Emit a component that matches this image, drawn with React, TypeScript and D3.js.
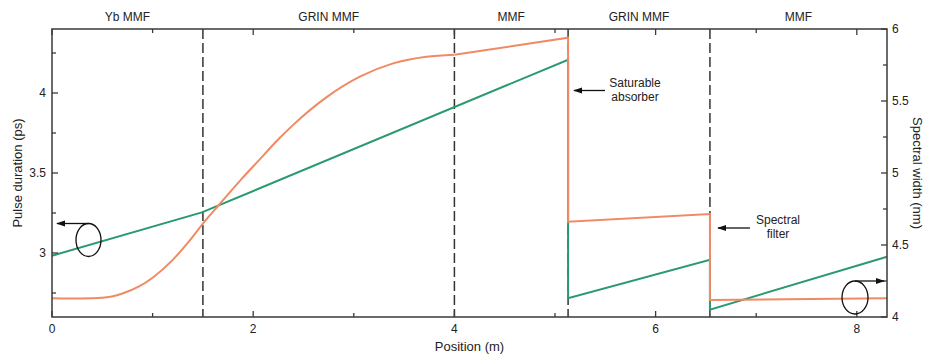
import * as d3 from "d3";
import { useEffect, useRef } from "react";

const W = 928;
const H = 356;

// pulse duration (ps), left axis
const greenPos = [0, 1.49, 5.13, 5.13, 6.54, 6.54, 8.3];
const greenVal = [2.983, 3.254, 4.208, 2.717, 2.958, 2.646, 2.977];

// spectral width (nm), right axis
const orangePos = [0, 0.3, 0.5, 0.7, 0.87, 1.0, 1.2, 1.37, 1.49, 1.65, 1.87, 2.06, 2.26, 2.4, 2.73, 3.06, 3.39, 3.72, 4.0, 5.13, 5.13, 6.54, 6.54, 8.3];
const orangeVal = [4.13, 4.128, 4.133, 4.163, 4.214, 4.273, 4.397, 4.532, 4.64, 4.771, 4.947, 5.091, 5.241, 5.336, 5.527, 5.669, 5.761, 5.807, 5.821, 5.94, 4.662, 4.715, 4.118, 4.13];

const boundaries = [1.5, 4.0, 5.13, 6.54];
const sections = ["Yb MMF", "GRIN MMF", "MMF", "GRIN MMF", "MMF"];
const sectionEdges = [0, 1.5, 4.0, 5.13, 6.54, 8.3];

const xTicks = [0, 2, 4, 6, 8];
const xMinor = [1, 3, 5, 7];
const leftTicks = [3, 3.5, 4];
const leftMinor = [2.75, 3.25, 3.75, 4.25];
const rightTicks = [4, 4.5, 5, 5.5, 6];
const rightMinor = [4.25, 4.75, 5.25, 5.75];

const ORANGE = "#ef8a64";
const GREEN = "#2a9a6e";
const AX = "#3a3a3a";
const FONT = "Liberation Sans, Arial, sans-serif";

const App = () => {
    const ref = useRef<SVGSVGElement>(null);

    useEffect(() => {
        if (!ref.current) return;
        const svg = d3.select(ref.current);
        svg.selectAll("*").remove();

        const m = { left: 52, right: 41, top: 29, bottom: 39 };
        const x = d3.scaleLinear().domain([0, 8.3]).range([m.left, W - m.right]);
        const yL = d3.scaleLinear().domain([2.6, 4.4]).range([H - m.bottom, m.top]);
        const yR = d3.scaleLinear().domain([4, 6]).range([H - m.bottom, m.top]);
        const x0 = m.left, x1 = W - m.right, y0 = m.top, y1 = H - m.bottom;

        const defs = svg.append("defs");
        defs.append("marker")
            .attr("id", "arr")
            .attr("viewBox", "0 0 10 10")
            .attr("refX", 9).attr("refY", 5)
            .attr("markerWidth", 7).attr("markerHeight", 7)
            .attr("orient", "auto-start-reverse")
            .append("path")
            .attr("d", "M0,1.5 L10,5 L0,8.5 Z")
            .attr("fill", "#111");

        // dashed boundaries
        svg.append("g").selectAll("line")
            .data(boundaries)
            .enter().append("line")
            .attr("x1", d => x(d)).attr("x2", d => x(d))
            .attr("y1", y0).attr("y2", y1)
            .attr("stroke", "#333")
            .attr("stroke-width", 1.5)
            .attr("stroke-dasharray", "10,4");

        // section labels
        svg.append("g").selectAll("text")
            .data(sections)
            .enter().append("text")
            .attr("x", (d, i) => (x(sectionEdges[i]) + x(sectionEdges[i + 1])) / 2)
            .attr("y", 21)
            .attr("text-anchor", "middle")
            .style("font", `12px ${FONT}`)
            .attr("fill", "#222")
            .text(d => d);

        // green line
        const gl = d3.line<number>()
            .x((d, i) => x(greenPos[i]))
            .y(d => yL(d));
        svg.append("path")
            .attr("d", gl(greenVal))
            .attr("fill", "none")
            .attr("stroke", GREEN)
            .attr("stroke-width", 2);

        // orange line: smooth part then straight segments
        const split = orangePos.indexOf(4.0);
        const smooth = d3.line<number>()
            .x(i => x(orangePos[i]))
            .y(i => yR(orangeVal[i]))
            .curve(d3.curveMonotoneX);
        const straight = d3.line<number>()
            .x(i => x(orangePos[i]))
            .y(i => yR(orangeVal[i]));
        const idx = d3.range(orangePos.length);
        svg.append("path")
            .attr("d", smooth(idx.slice(0, split + 1)))
            .attr("fill", "none")
            .attr("stroke", ORANGE)
            .attr("stroke-width", 2);
        svg.append("path")
            .attr("d", straight(idx.slice(split)))
            .attr("fill", "none")
            .attr("stroke", ORANGE)
            .attr("stroke-width", 2)
            .attr("stroke-linejoin", "miter");

        // frame
        svg.append("rect")
            .attr("x", x0).attr("y", y0)
            .attr("width", x1 - x0).attr("height", y1 - y0)
            .attr("fill", "none")
            .attr("stroke", AX)
            .attr("stroke-width", 1.5);

        const ticks = svg.append("g").attr("stroke", AX).attr("stroke-width", 1.3);
        const tickX = (vals: number[], len: number) => {
            vals.forEach(v => {
                ticks.append("line").attr("x1", x(v)).attr("x2", x(v)).attr("y1", y1).attr("y2", y1 - len);
                ticks.append("line").attr("x1", x(v)).attr("x2", x(v)).attr("y1", y0).attr("y2", y0 + len);
            });
        };
        tickX(xTicks, 6);
        tickX(xMinor, 4);
        leftTicks.forEach(v => ticks.append("line").attr("x1", x0).attr("x2", x0 + 6).attr("y1", yL(v)).attr("y2", yL(v)));
        leftMinor.forEach(v => ticks.append("line").attr("x1", x0).attr("x2", x0 + 4).attr("y1", yL(v)).attr("y2", yL(v)));
        rightTicks.forEach(v => ticks.append("line").attr("x1", x1).attr("x2", x1 - 6).attr("y1", yR(v)).attr("y2", yR(v)));
        rightMinor.forEach(v => ticks.append("line").attr("x1", x1).attr("x2", x1 - 4).attr("y1", yR(v)).attr("y2", yR(v)));

        const labels = svg.append("g").style("font", `12px ${FONT}`).attr("fill", "#222");
        xTicks.forEach(v => labels.append("text").attr("x", x(v)).attr("y", y1 + 16).attr("text-anchor", "middle").text(v));
        leftTicks.forEach(v => labels.append("text").attr("x", x0 - 6).attr("y", yL(v) + 4).attr("text-anchor", "end").text(v));
        rightTicks.forEach(v => labels.append("text").attr("x", x1 + 5).attr("y", yR(v) + 4).attr("text-anchor", "start").text(v));

        // axis titles
        svg.append("text")
            .attr("x", (x0 + x1) / 2).attr("y", 351)
            .attr("text-anchor", "middle")
            .style("font", `13px ${FONT}`).attr("fill", "#222")
            .text("Position (m)");
        svg.append("text")
            .attr("transform", `translate(22, ${(y0 + y1) / 2}) rotate(-90)`)
            .attr("text-anchor", "middle")
            .style("font", `13px ${FONT}`).attr("fill", "#222")
            .text("Pulse duration (ps)");
        svg.append("text")
            .attr("transform", `translate(913, ${(y0 + y1) / 2}) rotate(90)`)
            .attr("text-anchor", "middle")
            .style("font", `13px ${FONT}`).attr("fill", "#222")
            .text("Spectral width (nm)");

        // annotations
        const ann = svg.append("g").style("font", `12px ${FONT}`).attr("fill", "#222").attr("text-anchor", "middle");
        ann.append("text").attr("x", 635).attr("y", 87).text("Saturable");
        ann.append("text").attr("x", 635).attr("y", 101).text("absorber");
        ann.append("text").attr("x", 778).attr("y", 224).text("Spectral");
        ann.append("text").attr("x", 778).attr("y", 238).text("filter");

        const arrows = svg.append("g").attr("stroke", "#111").attr("stroke-width", 1.3).attr("fill", "none");
        arrows.append("line").attr("x1", 605).attr("y1", 90.5).attr("x2", 574).attr("y2", 90.5).attr("marker-end", "url(#arr)");
        arrows.append("line").attr("x1", 750).attr("y1", 228).attr("x2", 718).attr("y2", 228).attr("marker-end", "url(#arr)");

        // axis-pointer ellipses
        arrows.append("ellipse").attr("cx", 88.5).attr("cy", 240).attr("rx", 12.5).attr("ry", 16.5);
        arrows.append("line").attr("x1", 88.5).attr("y1", 223.5).attr("x2", 57).attr("y2", 223.5).attr("marker-end", "url(#arr)");
        arrows.append("ellipse").attr("cx", 855).attr("cy", 297.5).attr("rx", 13).attr("ry", 16.5);
        arrows.append("line").attr("x1", 855).attr("y1", 281).attr("x2", 884).attr("y2", 281).attr("marker-end", "url(#arr)");
    }, []);

    return (
        <svg
            ref={ref}
            width={W}
            height={H}
            style={{ position: "absolute", left: 0, top: 0, background: "#fff" }}
        />
    );
};

export default App;
